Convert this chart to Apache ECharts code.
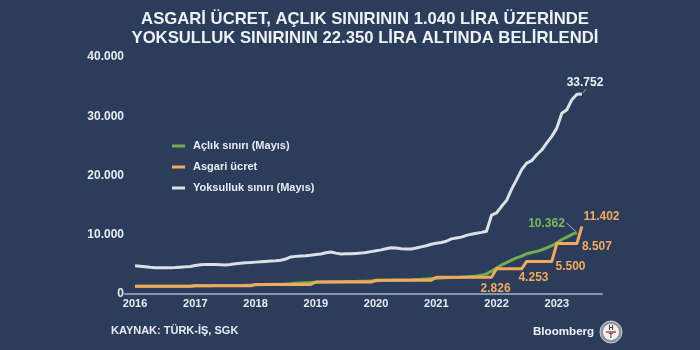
<!DOCTYPE html>
<html><head><meta charset="utf-8">
<script src="https://cdn.jsdelivr.net/npm/echarts@6/dist/echarts.min.js"></script>
<style>html,body{margin:0;padding:0;background:#2c3d5b;}#c{width:700px;height:350px;}</style>
</head><body><div id="c"></div>
<script>
// ---- data (monthly, starting Jan 2016) ----
const yearLabels = ['2016','2017','2018','2019','2020','2021','2022','2023'];
const yTicks = [0, 10000, 20000, 30000, 40000];
const legendNames = ['Açlık sınırı (Mayıs)', 'Asgari ücret', 'Yoksulluk sınırı (Mayıs)'];
const titleLines = ['ASGARİ ÜCRET, AÇLIK SINIRININ 1.040 LİRA ÜZERİNDE', 'YOKSULLUK SINIRININ 22.350 LİRA ALTINDA BELİRLENDİ'];
const sourceText = 'KAYNAK: TÜRK-İŞ, SGK';

const asgari = [
  1301,1301,1301,1301,1301,1301,1301,1301,1301,1301,1301,1301,
  1404,1404,1404,1404,1404,1404,1404,1404,1404,1404,1404,1404,
  1603,1603,1603,1603,1603,1603,1603,1603,1603,1603,1603,1603,
  2021,2021,2021,2021,2021,2021,2021,2021,2021,2021,2021,2021,
  2325,2325,2325,2325,2325,2325,2325,2325,2325,2325,2325,2325,
  2826,2826,2826,2826,2826,2826,2826,2826,2826,2826,2826,2826,
  4253,4253,4253,4253,4253,4253,5500,5500,5500,5500,5500,5500,
  8507,8507,8507,8507,8507,11402
];
const aclik = [
  1290,1290,1300,1300,1300,1310,1300,1300,1310,1310,1310,1320,
  1380,1390,1400,1410,1420,1420,1420,1430,1440,1450,1470,1490,
  1560,1580,1600,1620,1640,1650,1680,1730,1800,1870,1920,1960,
  2000,2020,2040,2060,2080,2080,2090,2100,2120,2140,2170,2200,
  2240,2270,2300,2330,2350,2360,2380,2400,2440,2480,2550,2600,
  2650,2690,2730,2770,2800,2830,2880,2940,3020,3150,3400,3850,
  4400,4900,5300,5700,6100,6400,6800,7000,7200,7450,7800,8150,
  8600,9200,9600,10050,10362
];
const yoksulluk = [
  4750,4680,4600,4500,4450,4430,4420,4430,4470,4530,4580,4650,
  4800,4950,5000,5000,4980,4940,4900,4980,5100,5180,5260,5300,
  5380,5450,5500,5560,5620,5700,5900,6250,6350,6400,6450,6550,
  6650,6750,6950,7100,6900,6760,6780,6800,6850,6900,7000,7150,
  7300,7450,7650,7800,7750,7650,7600,7600,7750,7950,8150,8400,
  8550,8700,8900,9300,9450,9600,9900,10100,10250,10400,10600,13300,
  13700,14800,15800,17700,19300,21000,22100,22500,23500,24300,25500,26600,
  28000,30500,31100,32800,33700,33752
];

// ---- build categories: Nov 2015 .. Oct 2023 (padding around the data) ----
const categories = [];
for (let y = 2015; y <= 2023; y++) {
  for (let m = 1; m <= 12; m++) {
    if ((y === 2015 && m < 11) || (y === 2023 && m > 10)) continue;
    categories.push(y + '-' + String(m).padStart(2, '0'));
  }
}
const offset = categories.indexOf('2016-01');
const pad = arr => new Array(offset).fill(null).concat(arr);
const fmt = v => String(v).replace(/\B(?=(\d{3})+(?!\d))/g, '.');

const FONT = "'Liberation Sans', Arial, sans-serif";
const C_WHITE = '#dcdfe4', C_GREEN = '#6fae4e', C_ORANGE = '#f4a85b';
const TXT = '#e8ebf0';

const chart = echarts.init(document.getElementById('c'), null, {renderer: 'canvas'});
chart.setOption({
  backgroundColor: '#2c3d5b',
  animation: false,
  grid: {left: 125, right: 98, top: 57, bottom: 56},
  legend: {
    data: legendNames, orient: 'vertical', left: 172, top: 140, padding: 0,
    icon: 'rect', itemWidth: 13, itemHeight: 3, itemGap: 9,
    textStyle: {color: TXT, fontSize: 11, fontWeight: 'bold', fontFamily: FONT, lineHeight: 12, padding: [0, 0, 0, 3]}
  },
  xAxis: {
    type: 'category', data: categories, boundaryGap: false,
    axisLine: {lineStyle: {color: '#8397b3', width: 2}},
    axisTick: {show: false},
    axisLabel: {
      interval: (i, v) => v.endsWith('-01'),
      formatter: v => { const y = v.slice(0, 4); return yearLabels.includes(y) ? y : ''; },
      color: TXT, fontSize: 11, fontWeight: 'bold', fontFamily: FONT, margin: 4
    },
    splitLine: {show: false}
  },
  yAxis: {
    type: 'value', min: yTicks[0], max: yTicks[yTicks.length - 1], interval: yTicks[1] - yTicks[0],
    axisLine: {show: false}, axisTick: {show: false}, splitLine: {show: false},
    axisLabel: {formatter: v => fmt(v), color: TXT, fontSize: 12, fontWeight: 'bold', fontFamily: FONT, margin: 1}
  },
  series: [
    {name: legendNames[2], type: 'line', data: pad(yoksulluk), showSymbol: false, color: C_WHITE,
     lineStyle: {width: 3, color: C_WHITE, join: 'round'}, z: 2},
    {name: legendNames[0], type: 'line', data: pad(aclik), showSymbol: false, color: C_GREEN,
     lineStyle: {width: 3, color: C_GREEN, join: 'round'}, z: 3},
    {name: legendNames[1], type: 'line', data: pad(asgari), showSymbol: false, color: C_ORANGE,
     lineStyle: {width: 3, color: C_ORANGE, join: 'round'}, z: 4}
  ]
});

// ---- value labels anchored to data points ----
const labelSpecs = [
  {arr: asgari, i: 71, color: C_ORANGE, dx: 4, dy: 11.7},
  {arr: asgari, i: 77, color: C_ORANGE, dx: 11.8, dy: 9.2},
  {arr: asgari, i: 83, color: C_ORANGE, dx: 18.7, dy: 5.6},
  {arr: asgari, i: 88, color: C_ORANGE, dx: 20, dy: 3.4},
  {arr: asgari, i: 89, color: C_ORANGE, dx: 19.6, dy: -9.4},
  {arr: aclik, i: 88, color: '#79b95a', dx: -30.4, dy: -8.6, leader: 'left'},
  {arr: yoksulluk, i: 89, color: '#eef0f3', dx: 3.1, dy: -11, leader: 'up'}
];
const g = [];
titleLines.forEach((t, k) => g.push({type: 'text', style: {x: 365, y: 19 + k * 19, text: t, fill: '#eef1f5',
  font: 'bold 16.7px ' + FONT, align: 'center', verticalAlign: 'middle'}}));
labelSpecs.forEach(s => {
  const v = s.arr[s.i];
  const p = chart.convertToPixel({xAxisIndex: 0, yAxisIndex: 0}, [categories[s.i + offset], v]);
  const tx = p[0] + s.dx, ty = p[1] + s.dy;
  g.push({type: 'text', style: {x: tx, y: ty, text: fmt(v), fill: s.color, font: 'bold 12px ' + FONT,
    align: 'center', verticalAlign: 'middle'}, z: 10});
  if (s.leader === 'left') {
    g.push({type: 'line', shape: {x1: tx + 20, y1: ty - 1, x2: p[0] - 1, y2: p[1] - 1},
      style: {stroke: '#a3adbb', lineWidth: 1}, z: 10});
  } else if (s.leader === 'up') {
    g.push({type: 'line', shape: {x1: p[0] + 1, y1: p[1] - 1, x2: p[0] + 4, y2: p[1] - 5},
      style: {stroke: '#a3adbb', lineWidth: 1}, z: 10});
  }
});
g.push({type: 'text', style: {x: 111, y: 331, text: sourceText, fill: TXT, font: 'bold 11px ' + FONT, verticalAlign: 'middle'}});
g.push({type: 'text', style: {x: 533, y: 332, text: 'Bloomberg', fill: '#f1f2f4', font: 'bold 11.6px ' + FONT, verticalAlign: 'middle'}});
g.push({type: 'circle', shape: {cx: 611, cy: 332, r: 11}, style: {fill: '#8f969f', stroke: '#c9cdd2', lineWidth: 1}});
g.push({type: 'circle', shape: {cx: 611, cy: 332, r: 8}, style: {fill: '#f2f2f2'}});
g.push({type: 'line', shape: {x1: 606, y1: 332, x2: 616, y2: 332}, style: {stroke: '#c0392b', lineWidth: 1.5}});
g.push({type: 'text', style: {x: 611, y: 328, text: 'H', fill: '#3a3f47', font: 'bold 7px ' + FONT, align: 'center', verticalAlign: 'middle'}});
g.push({type: 'text', style: {x: 611, y: 336.5, text: 'T', fill: '#3a3f47', font: 'bold 7px ' + FONT, align: 'center', verticalAlign: 'middle'}});
chart.setOption({graphic: g});
</script></body></html>
